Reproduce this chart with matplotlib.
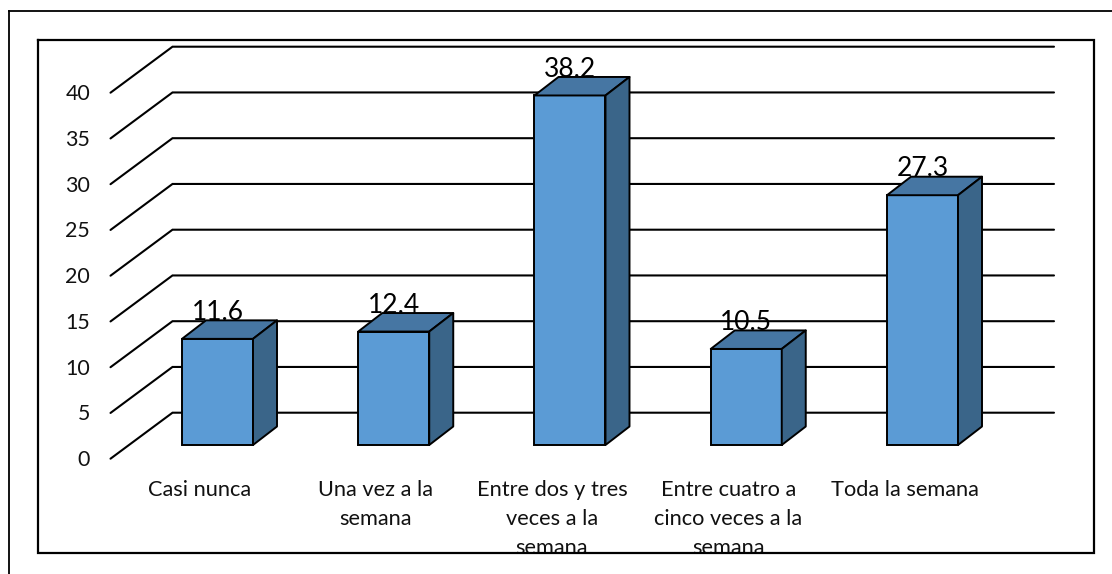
import matplotlib
matplotlib.use("Agg")
import matplotlib.pyplot as plt
from matplotlib.lines import Line2D

categories = ["Casi nunca", "Una vez a la\nsemana", "Entre dos y tres\nveces a la\nsemana",
              "Entre cuatro a\ncinco veces a la\nsemana", "Toda la semana"]
values = [11.6, 12.4, 38.2, 10.5, 27.3]
y_ticks = [0, 5, 10, 15, 20, 25, 30, 35, 40]

W, H = 1112, 574
PX_PER_CAT = 176.25
PX_PER_UNIT = 9.15
X0_PX = 217.5      # pixel of first bar centre
Y0_PX = 445.0      # pixel of bar baseline
BAR_W = 71 / PX_PER_CAT
DX = 24 / PX_PER_CAT
DY = 18.5 / PX_PER_UNIT
WALL_DX = 62 / PX_PER_CAT
WALL_DY = 32.3 / PX_PER_UNIT
FLOOR_DY = 46 / PX_PER_UNIT

FRONT = "#5B9BD5"
TOP = "#4676A3"
SIDE = "#3A6589"

plt.rcParams["font.family"] = ["Lato", "DejaVu Sans"]
fig = plt.figure(figsize=(W / 100, H / 100), dpi=100)
ax = fig.add_axes([0, 0, 1, 1])
ax.set_xlim(-X0_PX / PX_PER_CAT, (W - X0_PX) / PX_PER_CAT)
ax.set_ylim(-(H - Y0_PX) / PX_PER_UNIT, Y0_PX / PX_PER_UNIT)
ax.axis("off")


def fx(px):
    return px / W


def fy(py):
    return 1 - py / H


# frames in figure pixels
for xs, ys, lw in [
    ((9, 9), (11, 574), 1.3),
    ((9, 1112), (11, 11), 1.3),
    ((38, 38, 1094, 1094, 38), (40, 553, 553, 40, 40), 1.6),
]:
    fig.add_artist(Line2D([fx(x) for x in xs], [fy(y) for y in ys], color="black", lw=lw, zorder=6,
                          solid_joinstyle="miter"))

# gridlines and floor diagonals
x_front = (110.5 - X0_PX) / PX_PER_CAT
x_back = x_front + WALL_DX
x_end = (1054 - X0_PX) / PX_PER_CAT
for v in y_ticks:
    yf = v + WALL_DY - FLOOR_DY
    yb = v + WALL_DY
    ax.plot([x_front, x_back, x_end], [yf, yb, yb], color="black", lw=1.5, zorder=1,
            solid_joinstyle="miter", solid_capstyle="round")
    ax.text(x_front - 20.5 / PX_PER_CAT, yf - 1.5 / PX_PER_UNIT, str(v), ha="right", va="center",
            fontsize=15.4, color="#111111")

# bars
for i, (cat, v) in enumerate(zip(categories, values)):
    l, r = i - BAR_W / 2, i + BAR_W / 2
    ax.text(i, v + DY + 0.05, f"{v}", ha="center", va="baseline", fontsize=19,
            color="black", zorder=2)
    ax.bar(i, v, width=BAR_W, color=FRONT, edgecolor="black", lw=1.4, zorder=3)
    ax.fill([l, r, r + DX, l + DX], [v, v, v + DY, v + DY], facecolor=TOP, edgecolor="black",
            lw=1.4, zorder=3, joinstyle="round")
    ax.fill([r, r + DX, r + DX, r], [0, DY, v + DY, v], facecolor=SIDE, edgecolor="black",
            lw=1.4, zorder=3, joinstyle="round")
    ax.text(i - 18 / PX_PER_CAT, -(480 - Y0_PX) / PX_PER_UNIT, cat, ha="center", va="top",
            fontsize=15.7, linespacing=1.55, color="#111111", zorder=5)

fig.savefig("out.png", dpi=100, facecolor="white")
